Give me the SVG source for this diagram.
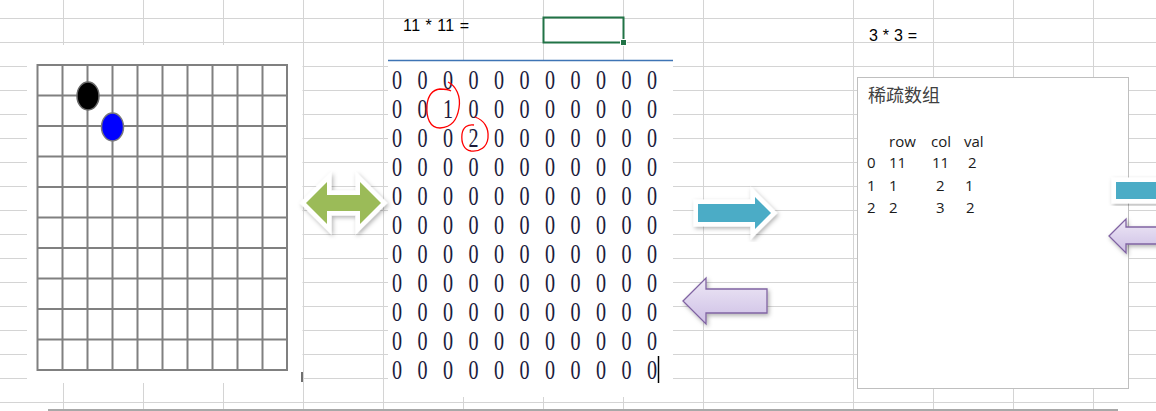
<svg xmlns="http://www.w3.org/2000/svg" width="1156" height="411" viewBox="0 0 1156 411">
<defs>
<style>
.gl{stroke:#D4D4D4;stroke-width:1}
.bd{stroke:#808080;stroke-width:2;fill:none}
.z{font-family:"Liberation Serif",serif;font-size:28px;fill:#1c1c3c;text-anchor:middle}
.t{font-family:"Liberation Sans",Arial,sans-serif;font-size:16px;fill:#000}
.tb{font-family:"Open Sans","Liberation Sans",sans-serif;font-size:15px;fill:#1a1a1a}
.red{fill:none;stroke:#FF0000;stroke-width:1.3}
.arw{stroke:#FFFFFF;stroke-width:9;stroke-linejoin:miter;paint-order:stroke;filter:url(#sh)}
</style>
<filter id="sh" x="-30%" y="-40%" width="160%" height="180%">
<feDropShadow dx="1.5" dy="2" stdDeviation="2" flood-color="#000" flood-opacity="0.3"/>
</filter>
<linearGradient id="pg" x1="0" y1="0" x2="0" y2="1">
<stop offset="0" stop-color="#EEE8F6"/>
<stop offset="1" stop-color="#CDBFE5"/>
</linearGradient>
</defs>
<rect width="1156" height="411" fill="#FFFFFF"/>
<g id="sheet-grid">
<path class="gl" d="M0,18.5H1156M0,42.5H1156M0,66.5H1156M0,90.5H1156M0,114.5H1156M0,138.5H1156M0,162.5H1156M0,186.5H1156M0,210.5H1156M0,234.5H1156M0,258.5H1156M0,282.5H1156M0,306.5H1156M0,330.5H1156M0,354.5H1156M0,378.5H1156M0,402.5H1156"/>
<path class="gl" d="M63.5,0V411M143.5,0V411M223.5,0V411M303.5,0V411M383.5,0V411M463.5,0V411M543.5,0V411M623.5,0V411M703.5,0V411M853.5,0V411M933.5,0V411M1013.5,0V411M1093.5,0V411"/>
<line x1="48" y1="410" x2="1118" y2="410" stroke="#A8A8A8" stroke-width="2"/>
</g>
<g id="formula-cells">
<text class="t" x="403" y="31" textLength="66" lengthAdjust="spacing">11 * 11 =</text>
<text class="t" x="869" y="41" textLength="48" lengthAdjust="spacing">3 * 3 =</text>
<rect x="543.5" y="17.5" width="80" height="25" fill="none" stroke="#217346" stroke-width="2"/>
<rect x="620.5" y="39.5" width="6" height="6" fill="#217346" stroke="#FFFFFF" stroke-width="1"/>
</g>
<g id="board">
<rect x="27" y="45" width="275.5" height="338" fill="#FFFFFF"/>
<rect class="bd" x="37.5" y="65" width="249.5" height="305"/>
<path class="bd" d="M62.5,65V370M87.5,65V370M112.5,65V370M137.5,65V370M162.5,65V370M187.5,65V370M212.5,65V370M237.5,65V370M262.5,65V370"/>
<path class="bd" d="M37.5,95.5H287M37.5,126H287M37.5,156.5H287M37.5,187H287M37.5,217.5H287M37.5,248H287M37.5,278.5H287M37.5,309H287M37.5,339.5H287"/>
<ellipse cx="88" cy="96" rx="11" ry="14" fill="#000000" stroke="#6A6A6A" stroke-width="1.5"/>
<ellipse cx="112.5" cy="127" rx="11" ry="14" fill="#0000FF" stroke="#7A7A7A" stroke-width="1.5"/>
<line x1="302" y1="372" x2="302" y2="382" stroke="#404040" stroke-width="1.5"/>
</g>
<g id="matrix">
<rect x="388" y="60" width="285" height="337" fill="#FFFFFF"/>
<line x1="388" y1="60.5" x2="673" y2="60.5" stroke="#3E74B5" stroke-width="1.5"/>
<g transform="scale(0.72,1)">
<text class="z" x="551.4 586.8 622.2 657.6 693.1 728.5 763.9 799.3 834.7 870.1 905.6" y="89">00000000000</text>
<text class="z" x="551.4 586.8 622.2 657.6 693.1 728.5 763.9 799.3 834.7 870.1 905.6" y="118">00100000000</text>
<text class="z" x="551.4 586.8 622.2 657.6 693.1 728.5 763.9 799.3 834.7 870.1 905.6" y="147">00020000000</text>
<text class="z" x="551.4 586.8 622.2 657.6 693.1 728.5 763.9 799.3 834.7 870.1 905.6" y="176">00000000000</text>
<text class="z" x="551.4 586.8 622.2 657.6 693.1 728.5 763.9 799.3 834.7 870.1 905.6" y="205">00000000000</text>
<text class="z" x="551.4 586.8 622.2 657.6 693.1 728.5 763.9 799.3 834.7 870.1 905.6" y="234">00000000000</text>
<text class="z" x="551.4 586.8 622.2 657.6 693.1 728.5 763.9 799.3 834.7 870.1 905.6" y="263">00000000000</text>
<text class="z" x="551.4 586.8 622.2 657.6 693.1 728.5 763.9 799.3 834.7 870.1 905.6" y="292">00000000000</text>
<text class="z" x="551.4 586.8 622.2 657.6 693.1 728.5 763.9 799.3 834.7 870.1 905.6" y="321">00000000000</text>
<text class="z" x="551.4 586.8 622.2 657.6 693.1 728.5 763.9 799.3 834.7 870.1 905.6" y="350">00000000000</text>
<text class="z" x="551.4 586.8 622.2 657.6 693.1 728.5 763.9 799.3 834.7 870.1 905.6" y="379">00000000000</text>
</g>
<path class="red" d="M448,82 C456,86 461,96 459,108 C457,120 452,127 440,128 C430,128 426,118 427,105 C428,95 432,90 440,89 C445,89 448,89 451,91"/>
<path class="red" d="M475,117 C484,120 489,128 488,138 C487,147 480,152 471,151 C464,150 461,143 462,134 C463,127 468,124 474,125"/>
<line x1="658.5" y1="356" x2="658.5" y2="383" stroke="#000" stroke-width="1.5"/>
</g>
<g id="sparse-box">
<rect x="857.5" y="77.5" width="271" height="311" fill="#FFFFFF" stroke="#BFBFBF" stroke-width="1"/>
<text x="868" y="102" font-family="'Noto Sans CJK SC',sans-serif" font-size="18" fill="#404040">稀疏数组</text>
<text class="tb" y="147"><tspan x="889">row</tspan><tspan x="931">col</tspan><tspan x="964">val</tspan></text>
<text class="tb" y="168"><tspan x="867">0</tspan><tspan x="889">11</tspan><tspan x="932">11</tspan><tspan x="968">2</tspan></text>
<text class="tb" y="191"><tspan x="867">1</tspan><tspan x="889">1</tspan><tspan x="936">2</tspan><tspan x="965">1</tspan></text>
<text class="tb" y="213"><tspan x="867">2</tspan><tspan x="889">2</tspan><tspan x="936">3</tspan><tspan x="966">2</tspan></text>
</g>
<g id="connectors">
<path class="arw" fill="#9BBB59" d="M306,203 L327,182 L327,195 L360,195 L360,182 L381,203 L360,224 L360,211 L327,211 L327,224 Z"/>
<path class="arw" fill="#4BACC6" d="M698,204 L755,204 L755,197 L771,213 L755,229 L755,222 L698,222 Z"/>
<path fill="url(#pg)" stroke="#8064A2" stroke-width="1.3" filter="url(#sh)" d="M683,301 L706,278 L706,289 L767,289 L767,313 L706,313 L706,324 Z"/>
<path class="arw" fill="#4BACC6" d="M1116,182 L1165,182 L1165,199 L1116,199 Z"/>
<path fill="url(#pg)" stroke="#8064A2" stroke-width="1.3" filter="url(#sh)" d="M1109,236 L1126,219 L1126,227 L1165,227 L1165,244 L1126,244 L1126,253 Z"/>
</g>
</svg>
